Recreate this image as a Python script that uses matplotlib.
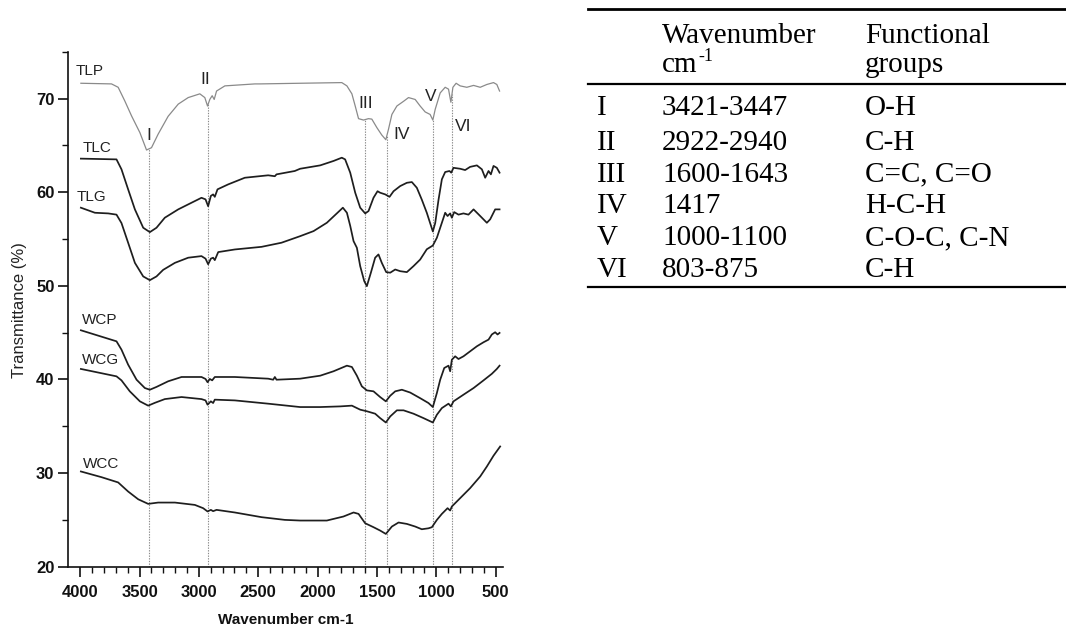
import matplotlib
matplotlib.use("Agg")
import matplotlib.pyplot as plt
from matplotlib.lines import Line2D
import numpy as np

# ---------------- data ----------------
tlp_wn = [3994, 3736, 3680, 3624, 3567, 3497, 3441, 3399, 3343, 3259, 3174, 3090, 2992, 2950,
          2927, 2908, 2888, 2871, 2851, 2781, 2528, 2486, 2147, 1796, 1753, 1711, 1683, 1655,
          1613, 1571, 1543, 1501, 1459, 1425, 1403, 1374, 1332, 1276, 1234, 1178, 1136, 1094,
          1052, 1029, 1009, 967, 925, 897, 877, 860, 833, 799, 743, 686, 630, 574, 518, 490, 467]
tlp_t = [71.63, 71.56, 71.2, 69.74, 68.14, 66.36, 64.5, 64.75, 66.2, 68.1, 69.4, 70.1, 70.5, 70.1,
         69.2, 69.9, 70.3, 69.9, 70.8, 71.35, 71.56, 71.56, 71.63, 71.7, 71.35, 70.5, 69.2, 67.85,
         67.7, 67.85, 67.8, 66.9, 66.1, 65.6, 66.7, 68.3, 69.2, 69.7, 70.1, 69.9, 69.2, 68.57,
         68.3, 67.7, 68.85, 70.6, 71.2, 71.0, 69.6, 71.2, 71.63, 71.35, 71.2, 71.4, 71.2, 71.5, 71.7, 71.5, 70.8]

tlc_wn = [3994, 3694, 3652, 3596, 3539, 3469, 3413, 3357, 3287, 3174, 3062, 2978, 2944, 2922,
          2899, 2880, 2866, 2843, 2753, 2613, 2416, 2360, 2346, 2192, 2147, 1978, 1866, 1796,
          1768, 1725, 1683, 1641, 1599, 1571, 1529, 1495, 1473, 1430, 1394, 1360, 1304, 1248,
          1206, 1164, 1122, 1080, 1052, 1029, 1009, 981, 953, 925, 889, 874, 855, 799, 757, 715,
          658, 616, 588, 560, 540, 518, 490, 467]
tlc_t = [63.58, 63.5, 62.44, 60.3, 58.16, 56.2, 55.73, 56.2, 57.27, 58.16, 58.87, 59.4, 59.23, 58.5,
         59.6, 59.76, 59.5, 60.3, 60.83, 61.54, 61.8, 61.7, 61.9, 62.26, 62.5, 62.86, 63.33, 63.68,
         63.5, 62.08, 59.94, 58.34, 57.73, 57.98, 59.4, 60.1, 59.94, 59.76, 59.5, 60.1, 60.65, 61.0,
         61.08, 60.47, 59.2, 57.8, 56.7, 55.8, 56.7, 59.2, 61.37, 62.15, 62.26, 62.08, 62.6, 62.5, 62.36, 62.7,
         62.86, 62.44, 61.54, 62.26, 61.9, 62.8, 62.6, 62.08]

tlg_wn = [3994, 3876, 3764, 3694, 3652, 3596, 3539, 3469, 3413, 3357, 3301, 3202, 3090, 2978,
          2944, 2922, 2899, 2880, 2866, 2837, 2697, 2472, 2304, 2147, 2034, 1922, 1838, 1787,
          1753, 1725, 1697, 1669, 1641, 1607, 1585, 1551, 1515, 1487, 1459, 1422, 1388, 1346,
          1304, 1248, 1192, 1136, 1080, 1029, 995, 953, 925, 905, 883, 869, 849, 813, 771, 729,
          686, 630, 574, 546, 504, 467]
tlg_t = [58.34, 57.8, 57.73, 57.6, 56.7, 54.6, 52.45, 51.0, 50.6, 51.0, 51.7, 52.45, 53.0, 53.17,
         52.9, 52.3, 52.9, 53.0, 52.74, 53.6, 53.88, 54.16, 54.6, 55.3, 55.84, 56.73, 57.73, 58.34,
         57.8, 56.4, 54.77, 54.06, 52.1, 50.5, 49.96, 51.4, 53.0, 53.35, 52.45, 51.46, 51.4, 51.74,
         51.56, 51.46, 52.1, 52.8, 53.9, 54.3, 55.13, 56.73, 57.8, 57.45, 57.73, 57.27, 57.87, 57.6, 57.73, 57.6,
         58.16, 57.45, 56.73, 57.1, 58.16, 58.16]

wcp_wn = [3994, 3694, 3652, 3596, 3525, 3455, 3413, 3357, 3259, 3146, 2978, 2944, 2927, 2908,
          2888, 2866, 2697, 2416, 2374, 2360, 2346, 2147, 1978, 1866, 1753, 1711, 1669, 1627,
          1585, 1529, 1473, 1425, 1388, 1346, 1290, 1220, 1136, 1066, 1029, 995, 967, 933, 897,
          883, 869, 841, 813, 771, 715, 658, 602, 560, 532, 504, 484, 467]
wcp_t = [45.25, 44.07, 43.18, 41.58, 39.97, 39.08, 38.9, 39.2, 39.8, 40.26, 40.26, 40.05, 39.7, 40.05,
         39.9, 40.26, 40.26, 40.08, 39.97, 40.26, 39.97, 40.08, 40.4, 40.87, 41.47, 41.33, 40.4, 39.26,
         38.83, 38.73, 38.12, 37.66, 38.26, 38.73, 38.9, 38.6, 38.0, 37.48, 37.05, 38.55, 39.97, 41.22, 41.47,
         40.87, 42.1, 42.47, 42.18, 42.47, 43.0, 43.54, 43.97, 44.25, 44.8, 45.04, 44.8, 44.97]

wcg_wn = [3994, 3694, 3652, 3582, 3497, 3427, 3371, 3287, 3146, 2978, 2944, 2927, 2899, 2880,
          2866, 2697, 2416, 2147, 1978, 1810, 1711, 1641, 1585, 1515, 1473, 1425, 1388, 1332,
          1276, 1192, 1108, 1029, 995, 953, 897, 877, 855, 771, 686, 602, 532, 490, 467]
wcg_t = [41.12, 40.33, 39.9, 38.73, 37.66, 37.2, 37.5, 37.9, 38.12, 37.9, 37.76, 37.3, 37.66, 37.48,
         37.84, 37.76, 37.41, 37.05, 37.05, 37.12, 37.2, 36.77, 36.6, 36.34, 35.87, 35.4, 36.05, 36.7,
         36.7, 36.34, 35.87, 35.4, 36.23, 36.94, 37.41, 37.12, 37.66, 38.37, 39.08, 39.9, 40.6, 41.12, 41.47]

wcc_wn = [3994, 3820, 3680, 3596, 3511, 3427, 3343, 3202, 3034, 2964, 2927, 2899, 2880, 2851,
          2697, 2472, 2276, 2147, 1922, 1782, 1697, 1655, 1599, 1529, 1473, 1425, 1374, 1318,
          1248, 1178, 1122, 1066, 1037, 995, 953, 905, 883, 869, 799, 715, 630, 574, 518, 462]
wcc_t = [30.17, 29.56, 29.0, 28.03, 27.2, 26.71, 26.85, 26.85, 26.6, 26.25, 25.9, 26.07, 25.93, 26.07,
         25.79, 25.29, 25.0, 24.93, 24.93, 25.36, 25.79, 25.64, 24.64, 24.22, 23.86, 23.5, 24.29, 24.72,
         24.57, 24.29, 24.0, 24.1, 24.22, 25.0, 25.64, 26.25, 26.0, 26.43, 27.32, 28.39, 29.64, 30.7, 31.85, 32.84]

series_names = ["TLP", "TLC", "TLG", "WCP", "WCG", "WCC"]
label_wn = [4039, 3983, 4031, 3989, 3983, 3975]
label_t = [72.9, 64.7, 59.44, 46.3, 42.1, 31.0]

peak_names = ["I", "II", "III", "IV", "V", "VI"]
peak_wn = [3421, 2920, 1600, 1417, 1030, 868]
peak_label_wn = [3421, 2950, 1593, 1293, 1043, 771]
peak_label_t = [66.07, 71.99, 69.5, 66.18, 70.2, 67.0]

x_ticks = [4000, 3500, 3000, 2500, 2000, 1500, 1000, 500]
y_ticks = [20, 30, 40, 50, 60, 70]

table_header = [["", "Wavenumber", "Functional"], ["", "cm", "groups"]]
table_rows = [["I", "3421-3447", "O-H"],
              ["II", "2922-2940", "C-H"],
              ["III", "1600-1643", "C=C, C=O"],
              ["IV", "1417", "H-C-H"],
              ["V", "1000-1100", "C-O-C, C-N"],
              ["VI", "803-875", "C-H"]]

# ---------------- figure ----------------
W, H = 1066, 632
fig = plt.figure(figsize=(W / 100, H / 100), dpi=100)
ax = fig.add_axes([68.3 / W, 1 - 566.7 / H, (503 - 68.3) / W, (566.7 - 51.7) / H])

sans = "Liberation Sans"
dark = "#1e1e1e"
series = [(tlp_wn, tlp_t), (tlc_wn, tlc_t), (tlg_wn, tlg_t),
          (wcp_wn, wcp_t), (wcg_wn, wcg_t), (wcc_wn, wcc_t)]
for i, (xw, yt) in enumerate(series):
    if i == 0:
        ax.plot(xw, yt, color="#8a8a8a", lw=0.9, zorder=3)
    else:
        ax.plot(xw, yt, color=dark, lw=1.25, zorder=3)

for name, xw, yt in zip(series_names, label_wn, label_t):
    ax.text(xw, yt, name, fontsize=11, family=sans, color="#222222",
            ha="left", va="center")

# dotted peak markers from bottom up to the TLP curve
tlp_x = np.array(tlp_wn[::-1])
tlp_y = np.array(tlp_t[::-1])
for pw in peak_wn:
    top = np.interp(pw, tlp_x, tlp_y)
    ax.plot([pw, pw], [20, top], ls=(0, (1.2, 1.2)), color="#8a8a8a", lw=0.8, zorder=2)

for name, xw, yt in zip(peak_names, peak_label_wn, peak_label_t):
    ax.text(xw, yt, name, fontsize=12.5, family=sans, color="#222222",
            ha="center", va="center")

ax.set_xlim(4100, 438)
ax.set_ylim(20, 75)
ax.set_xticks(x_ticks)
ax.set_xticks(np.arange(4000, 437, -100), minor=True)
ax.set_yticks(y_ticks)
ax.set_yticks(np.arange(25, 76, 10), minor=True)
for s in ["top", "right"]:
    ax.spines[s].set_visible(False)
for s in ["left", "bottom"]:
    ax.spines[s].set_linewidth(1.2)
    ax.spines[s].set_color("#111111")
ax.tick_params(axis="both", which="major", direction="out", length=7.5, width=1.2,
               color="#111111")
ax.tick_params(axis="both", which="minor", direction="out", length=4, width=1.0,
               color="#111111")
ax.tick_params(axis="x", which="major", pad=5.5)
ax.tick_params(axis="y", which="major", pad=2.5)
for lab in ax.get_xticklabels() + ax.get_yticklabels():
    lab.set_fontfamily(sans)
    lab.set_fontweight("bold")
    lab.set_fontsize(12)
    lab.set_color("#111111")

ax.set_xlabel("Wavenumber cm-1", fontsize=11, family=sans, fontweight="bold", color="#111111")
ax.xaxis.set_label_coords(0.5, -(613 - 566.7) / 515)
ax.set_ylabel("Transmittance (%)", fontsize=12, family=sans, color="#222222")
ax.yaxis.set_label_coords((20 - 68.3) / (503 - 68.3), (566.7 - 310) / 515)
ax.yaxis.label.set_va("center")

# ---------------- table on the right ----------------
serif = "Liberation Serif"
fs = 21
col_x = [597, 662, 865]


def fx(px):
    return px / W


def fy(py):
    return 1 - py / H


for py, lw in [(9, 2.0), (84, 1.6), (287, 1.6)]:
    fig.add_artist(Line2D([fx(588), fx(1066)], [fy(py), fy(py)], color="black", lw=lw))

renderer = fig.canvas.get_renderer()
header_base = [43, 72]
for r, row in enumerate(table_header):
    for c, txt in enumerate(row):
        if txt:
            t = fig.text(fx(col_x[c]), fy(header_base[r]), txt, family=serif, fontsize=fs,
                         ha="left", va="baseline")
            if r == 1 and c == 1:
                bb = t.get_window_extent(renderer=renderer)
                fig.text((bb.x1 + 1) / W, fy(header_base[r] - 11), "-1", family=serif,
                         fontsize=13, ha="left", va="baseline")

row_base = [115, 149.5, 181.5, 213.3, 245.3, 277.3]
for r, row in enumerate(table_rows):
    for c, txt in enumerate(row):
        fig.text(fx(col_x[c]), fy(row_base[r]), txt, family=serif, fontsize=fs,
                 ha="left", va="baseline")

fig.savefig("out.png", dpi=100)
